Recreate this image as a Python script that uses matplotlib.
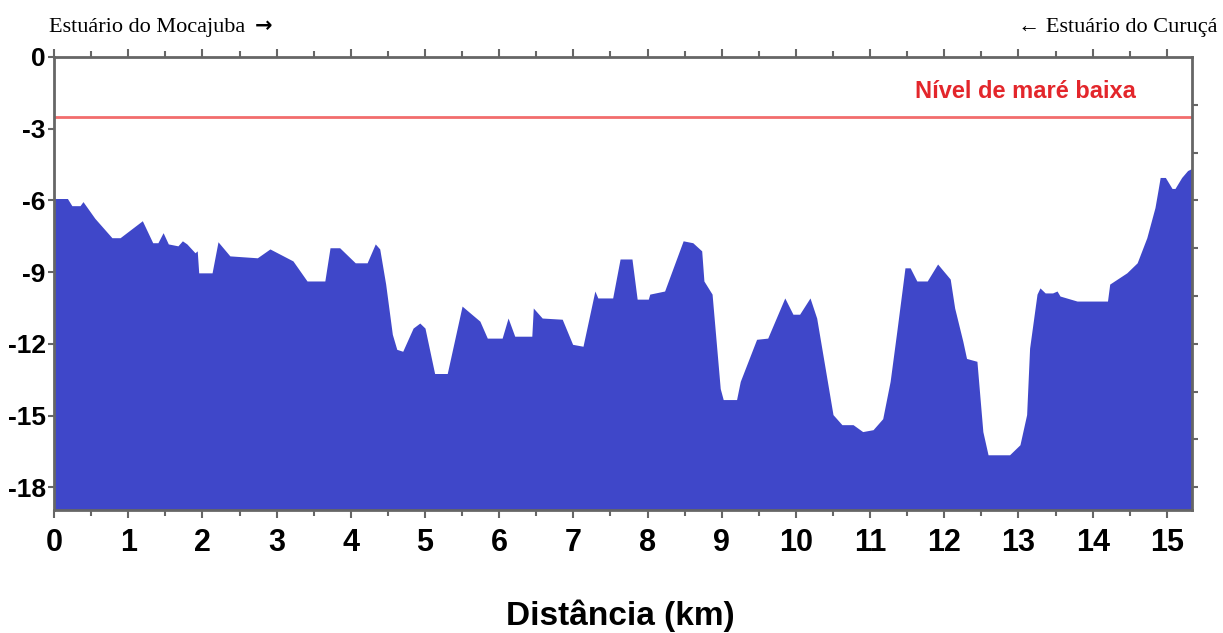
import matplotlib
matplotlib.use("Agg")
import matplotlib.pyplot as plt
from matplotlib.ticker import MultipleLocator


# depth profile (km along the section, depth in m)
dist_km = [
    0.0, 0.01, 0.18, 0.24, 0.35, 0.39, 0.55, 0.78, 0.89, 1.19, 1.33, 1.40, 1.47,
    1.54, 1.67, 1.73, 1.79, 1.90, 1.93, 1.95, 2.13, 2.21, 2.37, 2.74, 2.91,
    3.22, 3.41, 3.65, 3.72, 3.85, 4.06, 4.22, 4.33, 4.39, 4.47, 4.56, 4.62,
    4.70, 4.84, 4.93, 5.00, 5.13, 5.30, 5.50, 5.61, 5.74, 5.84, 6.04, 6.12,
    6.21, 6.44, 6.46, 6.58, 6.85, 6.99, 7.13, 7.29, 7.33, 7.53, 7.63, 7.79,
    7.86, 8.01, 8.03, 8.23, 8.48, 8.61, 8.73, 8.76, 8.87, 8.98, 9.02, 9.20,
    9.25, 9.47, 9.62, 9.85, 9.96, 10.05, 10.19, 10.28, 10.50, 10.62, 10.77,
    10.90, 11.04, 11.17, 11.27, 11.36, 11.43, 11.47, 11.54, 11.63, 11.77,
    11.91, 12.08, 12.14, 12.25, 12.30, 12.44, 12.52, 12.59, 12.88, 13.02,
    13.11, 13.15, 13.25, 13.29, 13.36, 13.46, 13.52, 13.56, 13.79, 14.20,
    14.23, 14.46, 14.60, 14.73, 14.84, 14.88, 14.91, 14.98, 15.07, 15.11,
    15.20, 15.28, 15.34,
]
depth_m = [
    -5.3, -5.92, -5.92, -6.22, -6.22, -6.05, -6.75, -7.56, -7.56, -6.85, -7.77, -7.77, -7.35,
    -7.82, -7.90, -7.69, -7.82, -8.19, -8.11, -9.03, -9.03, -7.73, -8.32, -8.40, -8.03,
    -8.53, -9.37, -9.37, -7.98, -7.98, -8.61, -8.61, -7.82, -8.03, -9.50, -11.60, -12.23,
    -12.31, -11.34, -11.13, -11.34, -13.24, -13.24, -10.42, -10.71, -11.05, -11.76, -11.76, -10.92,
    -11.68, -11.68, -10.50, -10.92, -10.97, -12.02, -12.10, -9.79, -10.08, -10.08, -8.45, -8.45,
    -10.13, -10.13, -9.92, -9.79, -7.69, -7.77, -8.11, -9.37, -9.92, -13.87, -14.33, -14.33,
    -13.57, -11.81, -11.76, -10.08, -10.76, -10.76, -10.08, -10.92, -14.96, -15.38, -15.38,
    -15.67, -15.59, -15.13, -13.57, -11.47, -9.79, -8.82, -8.82, -9.37, -9.37,
    -8.66, -9.29, -10.50, -11.89, -12.61, -12.73, -15.67, -16.64, -16.64, -16.22,
    -14.96, -12.18, -9.92, -9.66, -9.87, -9.87, -9.79, -10.00, -10.21, -10.21,
    -9.50, -9.03, -8.61, -7.56, -6.30, -5.59, -5.04, -5.04, -5.50, -5.50,
    -5.04, -4.75, -4.66,
]

low_tide_m = -2.52
x_ticks = list(range(0, 16))
y_ticks = [0, -3, -6, -9, -12, -15, -18]
y_ticks_right = [-2, -4, -6, -8, -10, -12, -14, -16, -18]

FILL = "#3f47c9"
AXC = "#666666"
SANS = ["Liberation Sans", "DejaVu Sans"]
SERIF = ["Liberation Serif", "DejaVu Serif"]

plt.rcParams["axes.unicode_minus"] = False

fig = plt.figure(figsize=(12.23, 6.33), dpi=100)
ax = fig.add_axes([0.0442, 0.1943, 0.9305, 0.7157])

ax.fill_between(dist_km, depth_m, -25, color=FILL, linewidth=0)
ax.axhline(low_tide_m, color="#f26d6d", linewidth=2)
ax.text(13.1, -1.71, "Nível de maré baixa", color="#e3262b", fontsize=17,
        fontweight="bold", family=SANS, ha="center", va="baseline")

ax.set_xlim(0, 15.34)
ax.set_ylim(-18.95, 0)

ax.set_xticks(x_ticks)
ax.xaxis.set_minor_locator(MultipleLocator(0.5))
ax.set_yticks(y_ticks)
ax.set_yticklabels([str(v) for v in y_ticks])

for sp in ax.spines.values():
    sp.set_color(AXC)
    sp.set_linewidth(2)

ax.tick_params(axis="x", which="major", direction="out", length=6, width=1.5,
               color=AXC, pad=7, top=True)
ax.tick_params(axis="x", which="minor", direction="out", length=4, width=1.5,
               color=AXC, top=True)
ax.tick_params(axis="y", which="major", direction="out", length=4, width=1.5,
               color=AXC, pad=2)

for lab in ax.get_xticklabels():
    lab.set_fontsize(22)
    lab.set_fontweight("bold")
    lab.set_family(SANS)
for lab in ax.get_yticklabels():
    lab.set_fontsize(19)
    lab.set_fontweight("bold")
    lab.set_family(SANS)

# right side ticks every 2 m, no labels
ax2 = ax.twinx()
ax2.set_ylim(ax.get_ylim())
ax2.set_yticks(y_ticks_right)
ax2.set_yticklabels([])
ax2.tick_params(axis="y", direction="out", length=4, width=1.5, color=AXC)
for sp in ax2.spines.values():
    sp.set_visible(False)

fig.text(620 / 1223, 1 - 625 / 633, "Distância (km)", fontsize=24, fontweight="bold",
         family=SANS, ha="center", va="baseline")
fig.text(49 / 1223, 1 - 32 / 633, "Estuário do Mocajuba", fontsize=16,
         family=SERIF, ha="left", va="baseline")
fig.text(255 / 1223, 1 - 32 / 633, "\u2192", fontsize=15, fontweight="bold",
         family=["DejaVu Sans"], ha="left", va="baseline")
fig.text(1218 / 1223, 1 - 32 / 633, "\u2190 Estuário do Curuçá", fontsize=16,
         family=SERIF, ha="right", va="baseline")

fig.savefig("out.png", dpi=100)
